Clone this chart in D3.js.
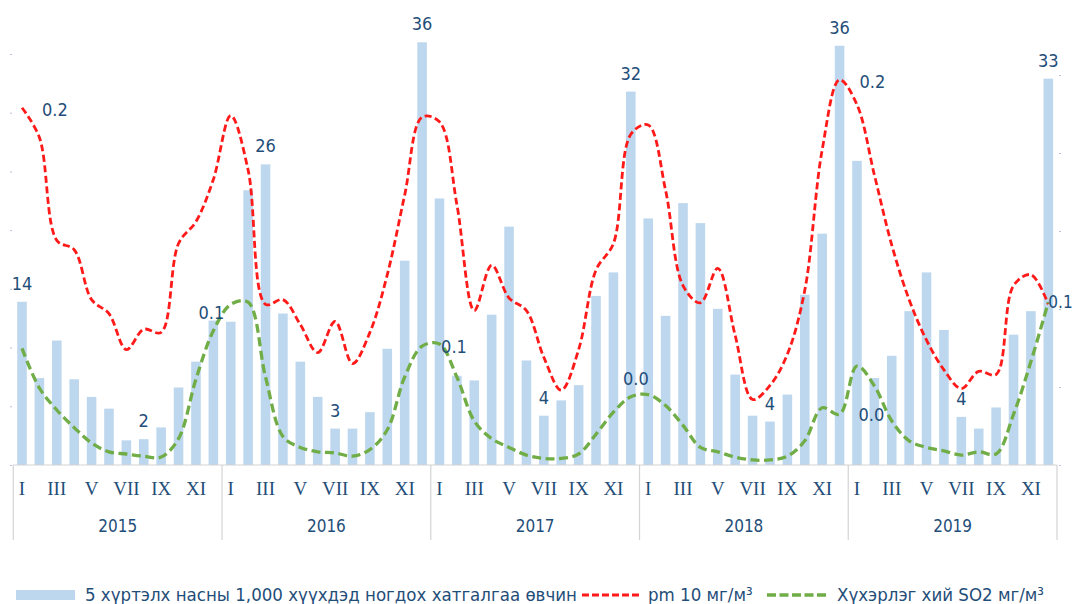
<!DOCTYPE html>
<html>
<head>
<meta charset="utf-8">
<script src="https://cdn.jsdelivr.net/npm/d3@7"></script>
<style>
  body { margin: 0; background: #fff; }
  svg text { font-family: "DejaVu Sans Condensed", "DejaVu Sans", sans-serif; fill: #1f4e79; }
  .month { font-family: "Liberation Serif", "DejaVu Serif", serif; }
</style>
</head>
<body>
<svg id="chart" width="1074" height="604"></svg>
<script>
// Years and month labels (odd months shown)
const years = ["2015", "2016", "2017", "2018", "2019"];
const monthNames = ["I", "II", "III", "IV", "V", "VI", "VII", "VIII", "IX", "X", "XI", "XII"];

// Pneumonia cases per 1,000 children under 5, monthly 2015-2019
const pneumonia = [
  13.9, 7.4, 10.6, 7.3, 5.8, 4.8, 2.1, 2.2, 3.2, 6.6, 8.8, 12.3,
  12.2, 23.4, 25.6, 12.9, 8.8, 5.8, 3.1, 3.1, 4.5, 9.9, 17.4, 36.0,
  22.7, 7.6, 7.2, 12.8, 20.3, 8.9, 4.2, 5.5, 6.8, 14.4, 16.4, 31.8,
  21.0, 12.7, 22.3, 20.6, 13.3, 7.7, 4.2, 3.7, 6.0, 14.5, 19.7, 35.7,
  25.9, 7.4, 9.3, 13.1, 16.4, 11.5, 4.1, 3.1, 4.9, 11.1, 13.1, 32.9
];

// pm 10, mg/m3
const pm10 = [
  0.229, 0.210, 0.144, 0.138, 0.106, 0.097, 0.074, 0.087, 0.085, 0.142, 0.156, 0.183,
  0.224, 0.189, 0.103, 0.106, 0.090, 0.072, 0.092, 0.065, 0.085, 0.122, 0.173, 0.223,
  0.220, 0.167, 0.099, 0.128, 0.107, 0.099, 0.069, 0.048, 0.074, 0.125, 0.142, 0.212,
  0.218, 0.176, 0.115, 0.104, 0.126, 0.083, 0.042, 0.051, 0.071, 0.112, 0.202, 0.247,
  0.231, 0.186, 0.141, 0.106, 0.080, 0.061, 0.049, 0.060, 0.058, 0.115, 0.122, 0.103
];

// Sulfur dioxide SO2, mg/m3
const so2 = [
  0.053, 0.035, 0.025, 0.017, 0.010, 0.006, 0.005, 0.004, 0.0036, 0.012, 0.039, 0.061,
  0.073, 0.074, 0.040, 0.013, 0.008, 0.006, 0.0055, 0.004, 0.007, 0.016, 0.040, 0.054,
  0.055, 0.040, 0.020, 0.012, 0.008, 0.0045, 0.003, 0.003, 0.005, 0.014, 0.024, 0.031,
  0.032, 0.027, 0.018, 0.008, 0.006, 0.0036, 0.0023, 0.0023, 0.004, 0.011, 0.026, 0.023,
  0.045, 0.036, 0.020, 0.011, 0.008, 0.0064, 0.0045, 0.006, 0.005, 0.023, 0.047, 0.074
];

// Which points carry a data label
const barLabelIdx = [0, 7, 14, 18, 23, 30, 35, 43, 47, 54, 59];
const pmLabelIdx = [0, 47];
const so2LabelIdx = [11, 23, 35, 47, 59];

const legendNames = [
  "5 хүртэлх насны 1,000 хүүхдэд ногдох хатгалгаа өвчин",
  "pm 10 мг/м³",
  "Хүхэрлэг хий SO2 мг/м³"
];

const svg = d3.select("#chart");
const left = 13.3, right = 1057, base = 465;
const barColor = "#bdd7ee", red = "#ff1a1a", green = "#70ad47";

const idx = d3.range(pneumonia.length);
const x = d3.scaleBand().domain(idx).range([left, right]).paddingInner(0.45).paddingOuter(0.225);
const cx = i => x(i) + x.bandwidth() / 2;
const step = x.step();

const yBar = d3.scaleLinear().domain([0, 35]).range([base, 54]);
const yPm = d3.scaleLinear().domain([0, 0.25]).range([base, 75]);
const ySo2 = d3.scaleLinear().domain([0, 0.1]).range([base, 245]);

// faint tick marks on both sides
svg.append("g")
  .attr("transform", "translate(12,0)")
  .call(d3.axisLeft(yBar).ticks(7).tickSize(2).tickFormat(""))
  .call(g => g.select(".domain").remove())
  .call(g => g.selectAll("line").attr("stroke", "#b8c4d8"));
svg.append("g")
  .attr("transform", "translate(1059,0)")
  .call(d3.axisRight(yPm).ticks(5).tickSize(2).tickFormat(""))
  .call(g => g.select(".domain").remove())
  .call(g => g.selectAll("line").attr("stroke", "#b8c4d8"));

// Bars
svg.append("g")
  .selectAll("rect")
  .data(pneumonia)
  .enter()
  .append("rect")
    .attr("x", (d, i) => x(i))
    .attr("width", x.bandwidth())
    .attr("y", d => yBar(d))
    .attr("height", d => base - yBar(d))
    .attr("fill", barColor);

// Category axis: baseline and year separators
const axis = svg.append("g").attr("stroke", "#d4d4d4").attr("stroke-width", 1.2);
axis.append("line").attr("x1", left).attr("x2", right).attr("y1", base).attr("y2", base);
d3.range(years.length + 1).forEach(k => {
  const xx = left + step * 12 * k;
  axis.append("line").attr("x1", xx).attr("x2", xx).attr("y1", base).attr("y2", 540);
});

svg.append("g")
  .selectAll("text")
  .data(idx.filter(i => i % 2 === 0))
  .enter()
  .append("text")
    .attr("class", "month")
    .attr("x", i => cx(i))
    .attr("y", 495)
    .attr("text-anchor", "middle")
    .style("font-size", "19px")
    .text(i => monthNames[i % 12]);

svg.append("g")
  .selectAll("text")
  .data(years)
  .enter()
  .append("text")
    .attr("x", (d, k) => left + step * 12 * (k + 0.5))
    .attr("y", 532)
    .attr("text-anchor", "middle")
    .style("font-size", "17px")
    .text(d => d);

// Lines
const pmLine = d3.line().x((d, i) => cx(i)).y(d => yPm(d)).curve(d3.curveCatmullRom.alpha(0.5));
const so2Line = d3.line().x((d, i) => cx(i)).y(d => ySo2(d)).curve(d3.curveCatmullRom.alpha(0.5));

svg.append("path")
  .datum(pm10)
  .attr("d", pmLine)
  .attr("fill", "none")
  .attr("stroke", red)
  .attr("stroke-width", 2.8)
  .attr("stroke-dasharray", "7,3.5");

svg.append("path")
  .datum(so2)
  .attr("d", so2Line)
  .attr("fill", "none")
  .attr("stroke", green)
  .attr("stroke-width", 3.3)
  .attr("stroke-dasharray", "9,4.5");

// Data labels
const labels = svg.append("g").style("font-size", "18px");
const f0 = d3.format(".0f"), f1 = d3.format(".1f");

barLabelIdx.forEach(i => {
  labels.append("text")
    .attr("x", cx(i))
    .attr("y", yBar(pneumonia[i]) - 12)
    .attr("text-anchor", "middle")
    .text(f0(pneumonia[i]));
});

pmLabelIdx.forEach(i => {
  labels.append("text")
    .attr("x", cx(i) + 20)
    .attr("y", yPm(pm10[i]) + 8)
    .text(f1(pm10[i]));
});

// placement for each SO2 label: above / right of the point
const so2Place = { 11: "above", 23: "right", 35: "above", 47: "right", 59: "edge" };
so2LabelIdx.forEach(i => {
  const px = cx(i), py = ySo2(so2[i]);
  const t = labels.append("text").text(f1(so2[i]));
  if (so2Place[i] === "above") {
    t.attr("x", px + (i === 35 ? 5 : -2)).attr("y", py - 12).attr("text-anchor", "middle");
  } else if (so2Place[i] === "right") {
    t.attr("x", px + 19).attr("y", py + 7);
  } else {
    t.attr("x", px).attr("y", py + 6).style("font-size", "17px");
  }
});

// Legend
const lg = svg.append("g").style("font-size", "18.5px");
lg.append("rect").attr("x", 16).attr("y", 590).attr("width", 59).attr("height", 10).attr("fill", barColor);
lg.append("text").attr("x", 85).attr("y", 601).text(legendNames[0]);
lg.append("line").attr("x1", 582).attr("x2", 640).attr("y1", 595).attr("y2", 595)
  .attr("stroke", red).attr("stroke-width", 2.8).attr("stroke-dasharray", "7,3");
lg.append("text").attr("x", 648).attr("y", 601).text(legendNames[1]);
lg.append("line").attr("x1", 767).attr("x2", 828).attr("y1", 595).attr("y2", 595)
  .attr("stroke", green).attr("stroke-width", 3.3).attr("stroke-dasharray", "9,3.5");
lg.append("text").attr("x", 837).attr("y", 601).text(legendNames[2]);
</script>
</body>
</html>
